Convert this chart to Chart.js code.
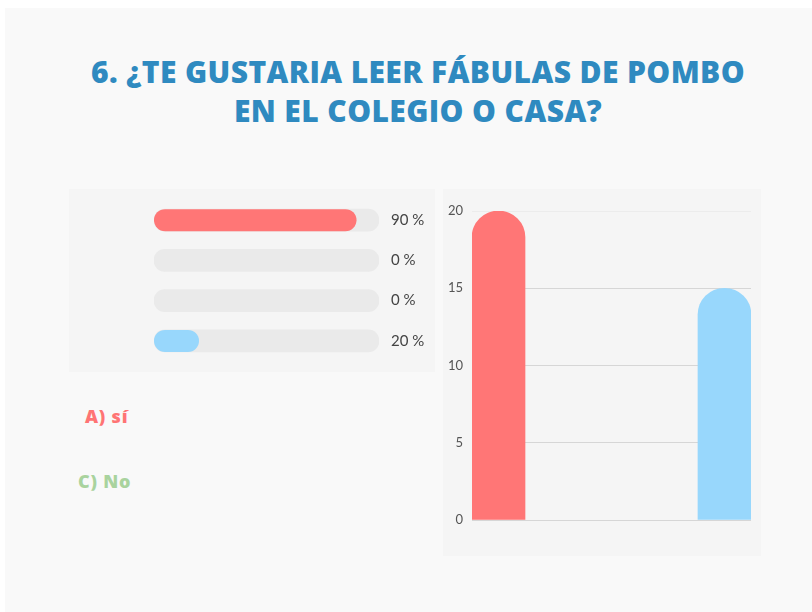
<!DOCTYPE html>
<html>
<head>
<meta charset="utf-8">
<script src="https://cdn.jsdelivr.net/npm/chart.js@4/dist/chart.umd.min.js"></script>
<style>
  html, body { margin: 0; padding: 0; background: #ffffff; }
  body { width: 812px; height: 612px; position: relative; overflow: hidden; font-family: Lato, "Open Sans", sans-serif; }
  .card { position: absolute; left: 5px; top: 8px; right: 0; bottom: 0; background: #f9f9f9; }
  .title { position: absolute; left: 68px; top: 52px; width: 700px; text-align: center;
           font-family: "Open Sans", Lato, sans-serif;
           font-size: 30px; line-height: 39px; font-weight: 800; color: #2f8ac0; letter-spacing: 0.4px; }
  .panel { position: absolute; background: #f5f5f5; }
  .panel canvas { display: block; }
  .lbl { position: absolute; font-family: "Open Sans", Lato, sans-serif; font-size: 18px; font-weight: 800; letter-spacing: 0.8px; }
</style>
</head>
<body>
<div class="card"></div>
<div class="title">6. ¿TE GUSTARIA LEER FÁBULAS DE POMBO<br>EN EL COLEGIO O CASA?</div>

<div class="panel" style="left:69px; top:189px; width:366px; height:183px;">
  <canvas id="progress" width="366" height="183"></canvas>
</div>
<div class="panel" style="left:443px; top:189px; width:318px; height:367px;">
  <canvas id="bars" width="318" height="367"></canvas>
</div>

<div class="lbl" style="left:85px; top:404px; color:#ff7474;">A) sí</div>
<div class="lbl" style="left:78px; top:469px; color:#a9d39e;">C) No</div>

<script>
// progress rows (percent answered)
const rowLabels = ['A', 'B', 'C', 'D'];
const rowPercents = [90, 0, 0, 20];
const rowColors = ['#ff7676', '#ff7676', '#ff7676', '#98d7fc'];

// column chart
const answerLabels = ['A) sí', 'C) No'];
const answerCounts = [20, 15];
const answerColors = ['#ff7676', '#98d7fc'];
const yTicks = [0, 5, 10, 15, 20];

const tickFont = { family: 'Lato', size: 13 };

new Chart(document.getElementById('progress'), {
    type: 'bar',
    data: {
        labels: rowLabels,
        datasets: [
            {
                data: rowPercents,
                backgroundColor: (ctx) => rowPercents[ctx.dataIndex] > 0 ? rowColors[ctx.dataIndex] : 'rgba(0,0,0,0)',
                grouped: false,
                barThickness: 22,
                borderRadius: 11,
                borderSkipped: false,
                inflateAmount: 0
            },
            {
                data: rowLabels.map(() => 100),
                backgroundColor: '#eaeaea',
                grouped: false,
                barThickness: 22,
                borderRadius: 11,
                borderSkipped: false
            }
        ]
    },
    options: {
        indexAxis: 'y',
        responsive: false,
        animation: false,
        events: [],
        layout: { padding: { left: 85, top: 11, bottom: 11, right: 0 } },
        plugins: { legend: { display: false }, tooltip: { enabled: false } },
        scales: {
            x: { min: 0, max: 100, display: false },
            y: {
                position: 'right',
                grid: { display: false, drawTicks: false },
                border: { display: false },
                ticks: {
                    padding: 12,
                    color: '#444',
                    font: { family: 'Lato', size: 15 },
                    callback: (val, i) => rowPercents[i] + ' %'
                },
                afterFit: (scale) => {
                    scale.width = 56;
                    scale.paddingTop = 0;
                    scale.paddingBottom = 0;
                }
            }
        }
    }
});

new Chart(document.getElementById('bars'), {
    type: 'bar',
    data: {
        datasets: [{
            data: answerCounts.map((v, i) => ({ x: i, y: v })),
            backgroundColor: answerColors,
            barThickness: 53,
            borderRadius: 30,
            borderSkipped: 'start'
        }]
    },
    options: {
        responsive: false,
        animation: false,
        events: [],
        layout: { padding: { left: 0, top: 22, bottom: 36, right: 10 } },
        plugins: { legend: { display: false }, tooltip: { enabled: false } },
        scales: {
            x: {
                type: 'linear',
                offset: false,
                min: -0.1173,
                max: answerCounts.length - 1 + 0.1173,
                display: false
            },
            y: {
                min: yTicks[0],
                max: yTicks[yTicks.length - 1],
                afterBuildTicks: (scale) => { scale.ticks = yTicks.map(v => ({ value: v })); },
                grid: {
                    drawTicks: false,
                    color: (ctx) => ctx.tick && ctx.tick.value === 20 ? '#ececec' : '#d6d6d6'
                },
                border: { display: false },
                ticks: { padding: 9, color: '#555', font: tickFont },
                afterFit: (scale) => { scale.width = 29; }
            }
        }
    }
});
</script>
</body>
</html>
